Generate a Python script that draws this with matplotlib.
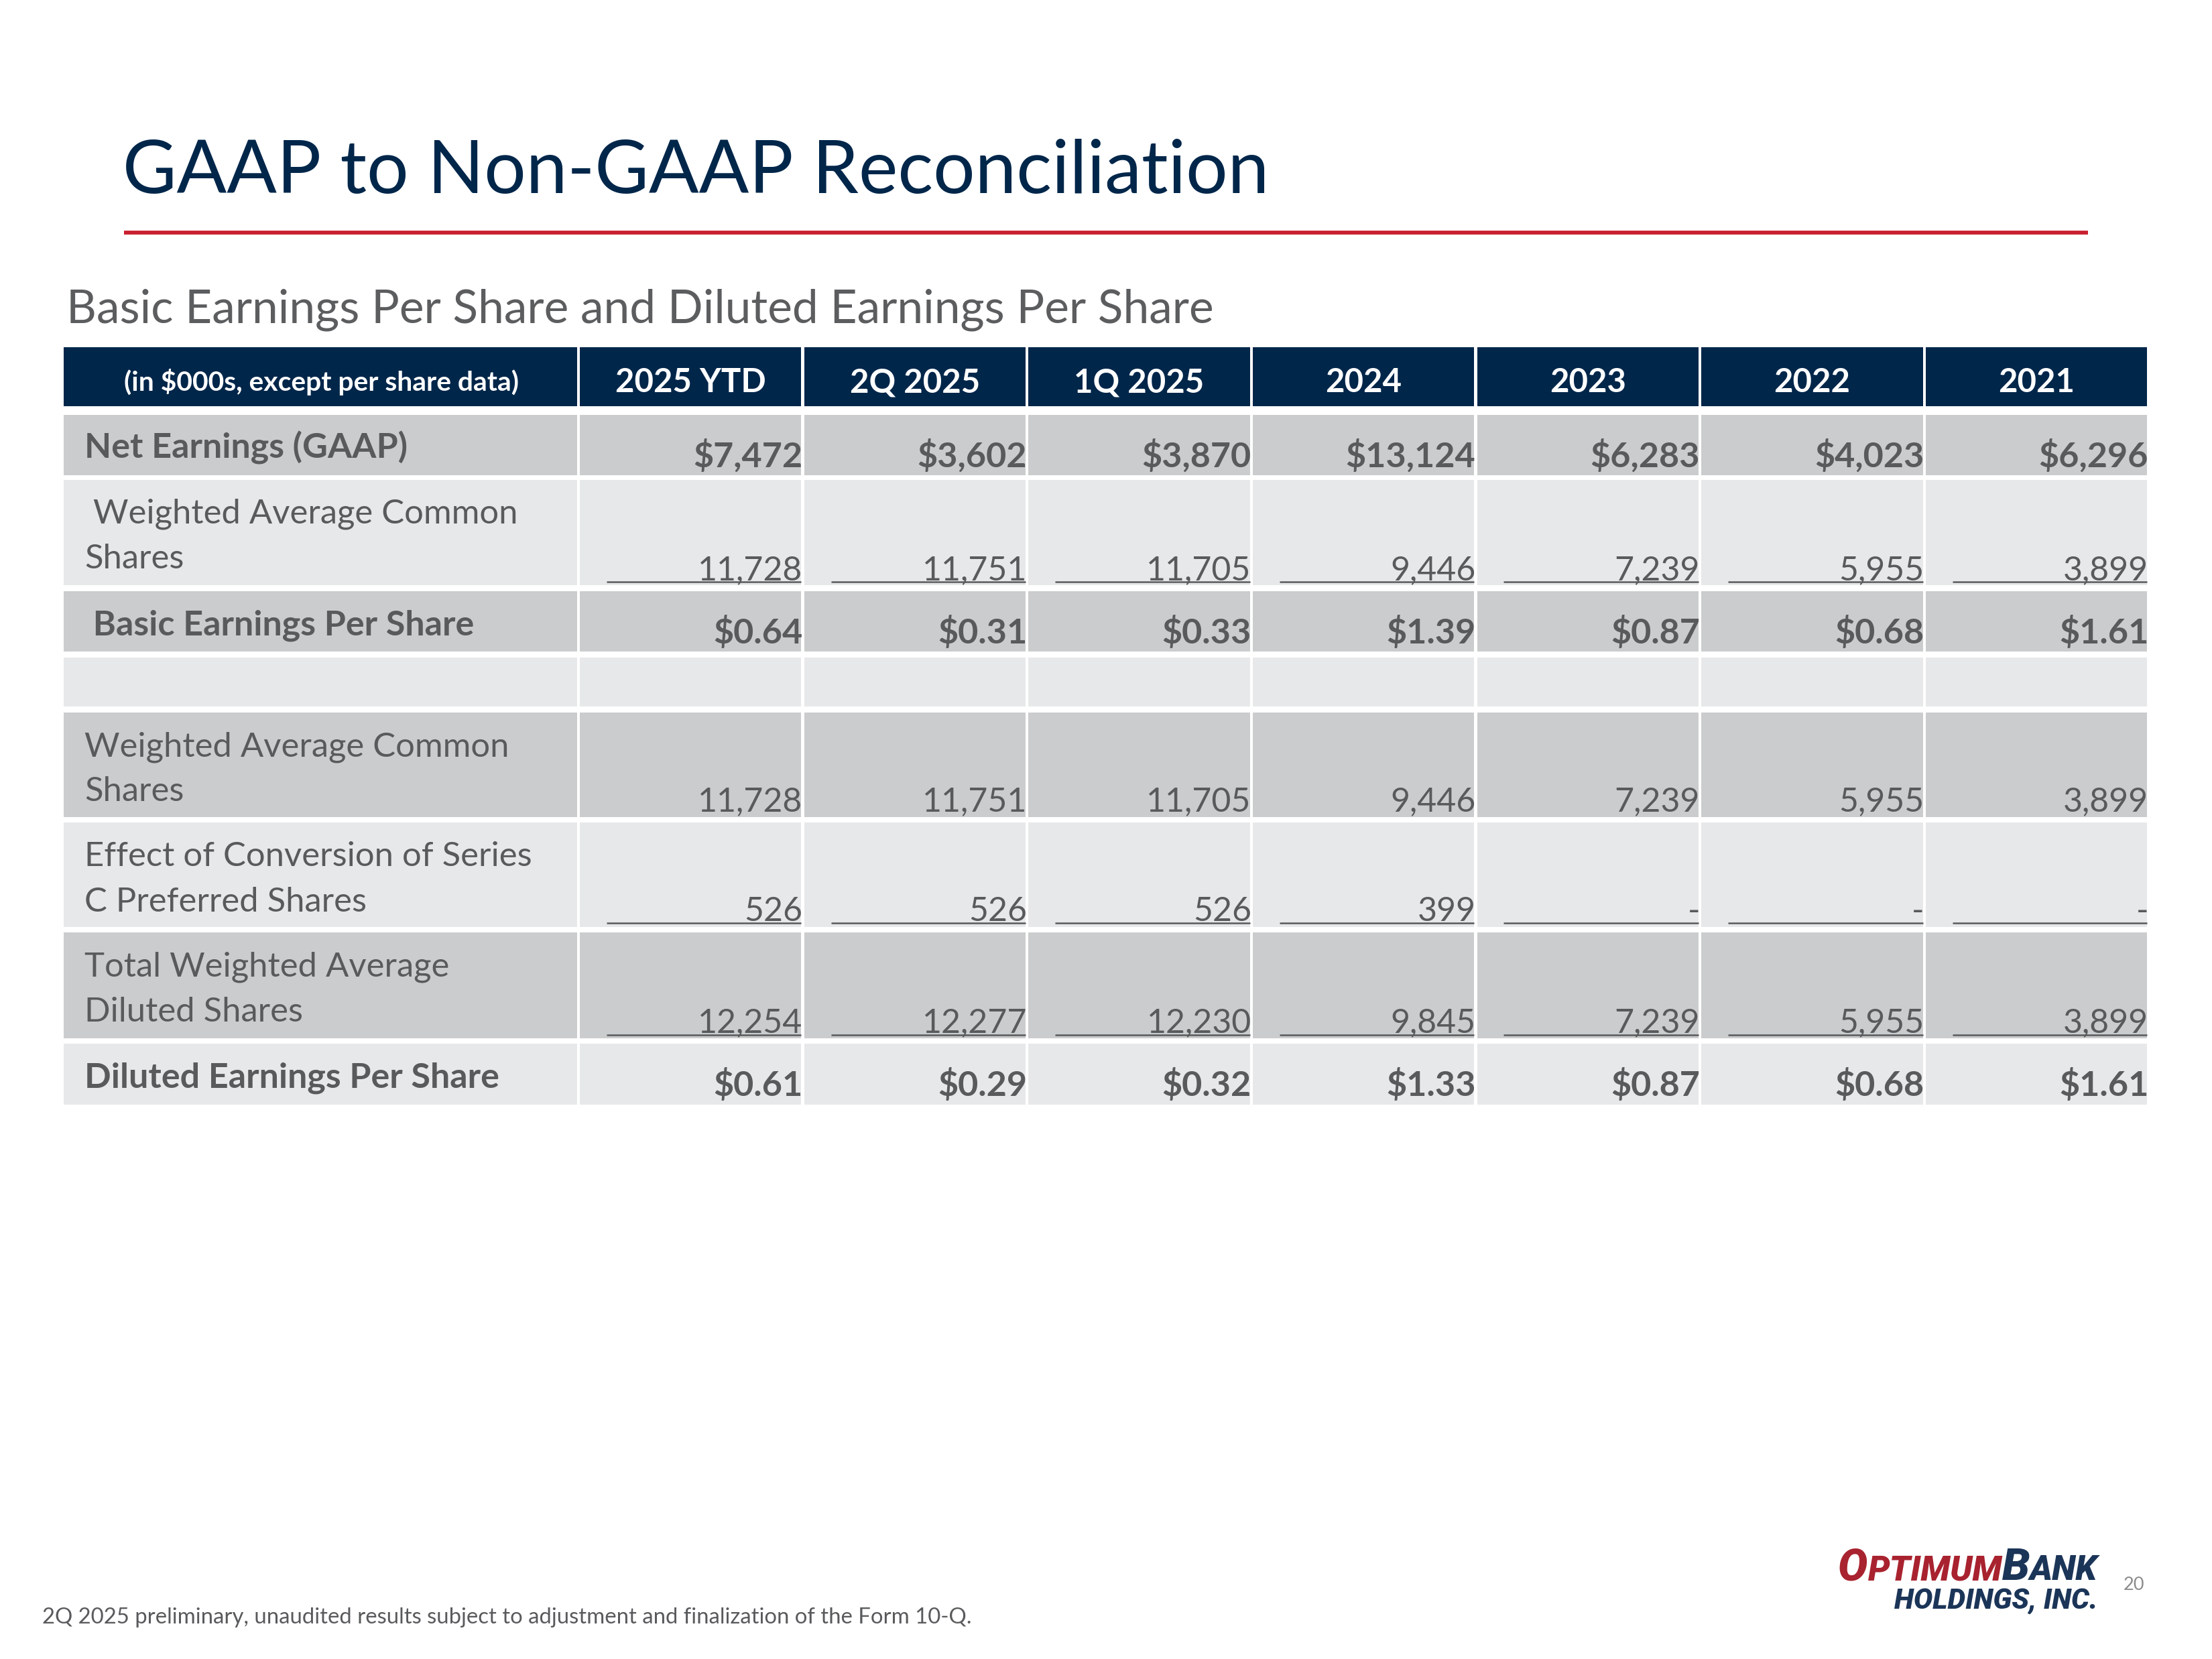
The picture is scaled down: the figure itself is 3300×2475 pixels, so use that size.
import matplotlib
matplotlib.use("Agg")
import matplotlib.pyplot as plt
from matplotlib.patches import Rectangle

# --- data -------------------------------------------------------------
title = "GAAP to Non-GAAP Reconciliation"
subtitle = "Basic Earnings Per Share and Diluted Earnings Per Share"
header_note = "(in $000s, except per share data)"
periods = ["2025 YTD", "2Q 2025", "1Q 2025", "2024", "2023", "2022", "2021"]

net_earnings = ["$7,472", "$3,602", "$3,870", "$13,124", "$6,283", "$4,023", "$6,296"]
wavg_common = ["11,728", "11,751", "11,705", "9,446", "7,239", "5,955", "3,899"]
basic_eps = ["$0.64", "$0.31", "$0.33", "$1.39", "$0.87", "$0.68", "$1.61"]
series_c = ["526", "526", "526", "399", "-", "-", "-"]
total_diluted = ["12,254", "12,277", "12,230", "9,845", "7,239", "5,955", "3,899"]
diluted_eps = ["$0.61", "$0.29", "$0.32", "$1.33", "$0.87", "$0.68", "$1.61"]

footnote = ("2Q 2025 preliminary, unaudited results subject to adjustment "
            "and finalization of the Form 10-Q.")
page_no = "20"

# --- style ------------------------------------------------------------
NAVY = "#00264a"
RED = "#c8202f"
TXT = "#595a5c"
DARK = "#cbcccd"
LIGHT = "#e7e8e9"

plt.rcParams["font.family"] = ["Lato", "DejaVu Sans"]

W, H = 1568, 1176   # slide drawn in a 1568 x 1176 grid
fig = plt.figure(figsize=(11, 8.25), dpi=300)
ax = fig.add_axes([0, 0, 1, 1])
ax.set_xlim(0, W)
ax.set_ylim(H, 0)
ax.axis("off")

# title + rule
ax.text(87, 137, title, fontsize=26.5, color=NAVY, va="baseline")
ax.plot([88, 1480], [165, 165], color=RED, lw=1.4, solid_capstyle="butt")
ax.text(47, 229, subtitle, fontsize=16.7, color="#5c5d5f", va="baseline")

# columns
label_left, label_right = 45, 409
col_left = [411 + i * 159 for i in range(len(periods))]
col_w = 157

# header
ax.add_patch(Rectangle((label_left, 246), label_right - label_left, 42, color=NAVY, lw=0))
ax.text((label_left + label_right) / 2 + 1, 277, header_note, fontsize=9.8, weight="bold",
        color="white", ha="center", va="baseline")
for x, p in zip(col_left, periods):
    ax.add_patch(Rectangle((x, 246), col_w, 42, color=NAVY, lw=0))
    ax.text(x + col_w / 2, 278, p, fontsize=11.8, weight="bold", color="white",
            ha="center", va="baseline")

# rows: (label lines, values, bold, underline, top, bottom, fill)
rows = [
    (["Net Earnings (GAAP)"], net_earnings, True, False, 294, 337, DARK),
    ([" Weighted Average Common", "Shares"], wavg_common, False, True, 340, 415, LIGHT),
    ([" Basic Earnings Per Share"], basic_eps, True, False, 419, 462, DARK),
    ([], None, False, False, 466, 501, LIGHT),
    (["Weighted Average Common", "Shares"], wavg_common, False, False, 505, 579, DARK),
    (["Effect of Conversion of Series", "C Preferred Shares"], series_c, False, True, 583, 657, LIGHT),
    (["Total Weighted Average", "Diluted Shares"], total_diluted, False, True, 661, 736, DARK),
    (["Diluted Earnings Per Share"], diluted_eps, True, False, 740, 783, LIGHT),
]

for lines, vals, bold, under, top, bot, fill in rows:
    h = bot - top
    wt = "bold" if bold else "normal"
    lab_fs = 12.5 if bold else 12.2
    val_fs = 12.5 if bold else 12.0
    ax.add_patch(Rectangle((label_left, top), label_right - label_left, h, color=fill, lw=0))
    for k, line in enumerate(lines):
        ax.text(60, top + 31 + 32 * k, line, fontsize=lab_fs, weight=wt, color=TXT,
                va="baseline")
    for i, x in enumerate(col_left):
        ax.add_patch(Rectangle((x, top), col_w, h, color=fill, lw=0))
        if vals is None:
            continue
        base = bot - 6 if len(lines) == 1 else bot - 4
        ax.text(x + col_w + 1, base, vals[i], fontsize=val_fs, weight=wt, color=TXT,
                ha="right", va="baseline")
        if under:
            ax.plot([x + 19, x + col_w], [bot - 2.5, bot - 2.5], color=TXT, lw=0.6,
                    solid_capstyle="butt")

# footer
ax.text(30, 1151, footnote, fontsize=7.9, color=TXT, va="baseline")
ax.text(1520, 1127, page_no, fontsize=6.5, color="#8c8c8c", ha="right", va="baseline")

# logo as styled text, sized to its box
LOGO_RED = "#a8232f"
LOGO_NAVY = "#1b3558"
logo = dict(style="italic", weight="heavy", va="baseline",
            family=["Roboto", "DejaVu Sans"])
parts = [("O", 1.0, LOGO_RED), ("PTIMUM", 0.78, LOGO_RED),
         ("B", 1.0, LOGO_NAVY), ("ANK", 0.78, LOGO_NAVY)]
big = 17
t = ax.text(1303, 1120, parts[0][0], fontsize=big, color=parts[0][2], **logo)
logo_texts = [t]
for s, rel, c in parts[1:]:
    t = ax.annotate(s, xy=(1, 1120), xycoords=(t, "data"), fontsize=big * rel, color=c, **logo)
    logo_texts.append(t)
sub = ax.text(1487, 1140, "HOLDINGS, INC.", fontsize=10, color=LOGO_NAVY, ha="right", **logo)

r = fig.canvas.get_renderer()
px_per_unit = fig.bbox.width / W
x0 = logo_texts[0].get_window_extent(r).x0
x1 = logo_texts[-1].get_window_extent(r).x1
scale = (1487 - 1303) * px_per_unit / (x1 - x0)
for (s, rel, c), tt in zip(parts, logo_texts):
    tt.set_fontsize(big * rel * scale)
wsub = sub.get_window_extent(r).width
sub.set_fontsize(10 * (1487 - 1343) * px_per_unit / wsub)

fig.savefig("out.png", dpi=300, facecolor="white")
